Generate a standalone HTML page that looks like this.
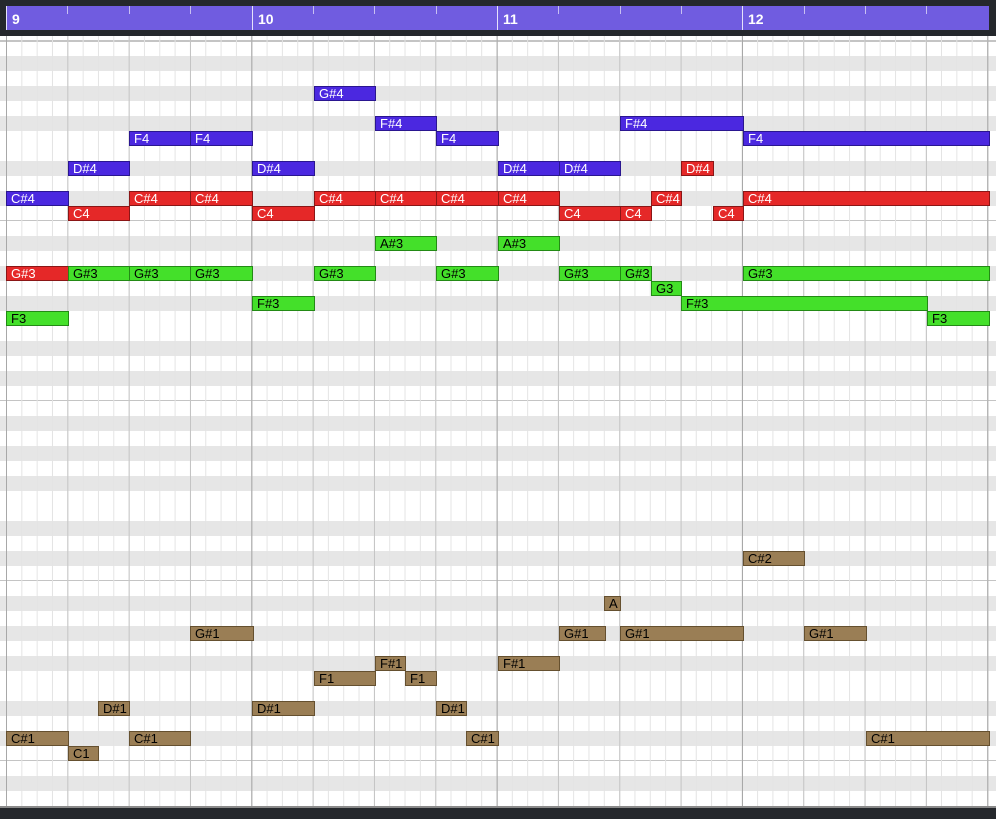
<!DOCTYPE html>
<html><head><meta charset="utf-8"><style>
*{margin:0;padding:0;box-sizing:border-box}
body{width:996px;height:819px;overflow:hidden;background:#fff;position:relative;font-family:"Liberation Sans",sans-serif}
#top{position:absolute;left:0;top:0;width:996px;height:36px;background:#25282c}
#ruler{position:absolute;left:6px;top:6px;width:983px;height:24px;background:#705ce0}
.tick{position:absolute;top:0;width:1px;height:8px;background:#c8c0f2}
.bar{position:absolute;top:0;width:1px;height:24px;background:#e6e2fb}
.num{position:absolute;top:5px;color:#fff;font-weight:bold;font-size:14px}
#grid{position:absolute;left:0;top:36px;width:996px;height:770px;
background:
linear-gradient(to right,#a8a8a8 0 1px,transparent 1px) 6px 0/245.33px 100% repeat-x,
linear-gradient(to right,#c4c4c4 0 1px,transparent 1px) 6px 0/61.333px 100% repeat-x,
linear-gradient(to right,#e4e4e4 0 1px,transparent 1px) 6px 0/15.333px 100% repeat-x,
linear-gradient(#c4c4c4 0 2px,transparent 2px) 0 4px/100% 100% no-repeat,
linear-gradient(to bottom,transparent 0 179px,#c4c4c4 179px 181px,transparent 181px) 0 5px/100% 180px repeat-y,
linear-gradient(to bottom,#fff 0 15px,#e6e6e6 15px 30px,#fff 30px 45px,#e6e6e6 45px 60px,#fff 60px 75px,#e6e6e6 75px 90px,#fff 90px 120px,#e6e6e6 120px 135px,#fff 135px 150px,#e6e6e6 150px 165px,#fff 165px 180px) 0 5px/100% 180px repeat-y;}
#bot{position:absolute;left:0;top:806px;width:996px;height:13px;background:#25282c;border-top:2px solid #8a8a8a}
.n{position:absolute;height:15px;border:1px solid;font-size:13px;line-height:13px;padding-left:4px;white-space:nowrap;overflow:hidden}
.b{background:#4b28e0;border-color:#2a1690;color:#fff}
.r{background:#e52828;border-color:#8a1616;color:#fff}
.g{background:#44e02a;border-color:#238a15;color:#000}
.w{background:#9a7e55;border-color:#65502f;color:#000}
</style></head><body>
<div id="top"></div>
<div id="ruler">
<div class="bar" style="left:0"></div><div class="bar" style="left:246px"></div><div class="bar" style="left:491px"></div><div class="bar" style="left:736px"></div>
<div class="tick" style="left:61px"></div><div class="tick" style="left:123px"></div><div class="tick" style="left:184px"></div>
<div class="tick" style="left:307px"></div><div class="tick" style="left:368px"></div><div class="tick" style="left:430px"></div>
<div class="tick" style="left:552px"></div><div class="tick" style="left:614px"></div><div class="tick" style="left:675px"></div>
<div class="tick" style="left:798px"></div><div class="tick" style="left:859px"></div><div class="tick" style="left:920px"></div>
<div class="num" style="left:6px">9</div><div class="num" style="left:252px">10</div><div class="num" style="left:497px">11</div><div class="num" style="left:742px">12</div>
</div>
<div id="grid"></div>
<div id="bot"></div>

<div class="n b" style="left:314px;top:86px;width:62px">G#4</div>
<div class="n b" style="left:375px;top:116px;width:62px">F#4</div>
<div class="n b" style="left:620px;top:116px;width:124px">F#4</div>
<div class="n b" style="left:129px;top:131px;width:62px">F4</div>
<div class="n b" style="left:190px;top:131px;width:63px">F4</div>
<div class="n b" style="left:436px;top:131px;width:63px">F4</div>
<div class="n b" style="left:743px;top:131px;width:247px">F4</div>
<div class="n b" style="left:68px;top:161px;width:62px">D#4</div>
<div class="n b" style="left:252px;top:161px;width:63px">D#4</div>
<div class="n b" style="left:498px;top:161px;width:62px">D#4</div>
<div class="n b" style="left:559px;top:161px;width:62px">D#4</div>
<div class="n r" style="left:681px;top:161px;width:33px">D#4</div>
<div class="n b" style="left:6px;top:191px;width:63px">C#4</div>
<div class="n r" style="left:129px;top:191px;width:62px">C#4</div>
<div class="n r" style="left:190px;top:191px;width:63px">C#4</div>
<div class="n r" style="left:314px;top:191px;width:62px">C#4</div>
<div class="n r" style="left:375px;top:191px;width:62px">C#4</div>
<div class="n r" style="left:436px;top:191px;width:63px">C#4</div>
<div class="n r" style="left:498px;top:191px;width:62px">C#4</div>
<div class="n r" style="left:651px;top:191px;width:31px">C#4</div>
<div class="n r" style="left:743px;top:191px;width:247px">C#4</div>
<div class="n r" style="left:68px;top:206px;width:62px">C4</div>
<div class="n r" style="left:252px;top:206px;width:63px">C4</div>
<div class="n r" style="left:559px;top:206px;width:62px">C4</div>
<div class="n r" style="left:620px;top:206px;width:32px">C4</div>
<div class="n r" style="left:713px;top:206px;width:31px">C4</div>
<div class="n g" style="left:375px;top:236px;width:62px">A#3</div>
<div class="n g" style="left:498px;top:236px;width:62px">A#3</div>
<div class="n r" style="left:6px;top:266px;width:63px">G#3</div>
<div class="n g" style="left:68px;top:266px;width:62px">G#3</div>
<div class="n g" style="left:129px;top:266px;width:62px">G#3</div>
<div class="n g" style="left:190px;top:266px;width:63px">G#3</div>
<div class="n g" style="left:314px;top:266px;width:62px">G#3</div>
<div class="n g" style="left:436px;top:266px;width:63px">G#3</div>
<div class="n g" style="left:559px;top:266px;width:62px">G#3</div>
<div class="n g" style="left:620px;top:266px;width:32px">G#3</div>
<div class="n g" style="left:743px;top:266px;width:247px">G#3</div>
<div class="n g" style="left:651px;top:281px;width:31px">G3</div>
<div class="n g" style="left:252px;top:296px;width:63px">F#3</div>
<div class="n g" style="left:681px;top:296px;width:247px">F#3</div>
<div class="n g" style="left:6px;top:311px;width:63px">F3</div>
<div class="n g" style="left:927px;top:311px;width:63px">F3</div>

<div class="n w" style="left:743px;top:551px;width:62px">C#2</div>
<div class="n w" style="left:604px;top:596px;width:17px">A</div>
<div class="n w" style="left:190px;top:626px;width:64px">G#1</div>
<div class="n w" style="left:559px;top:626px;width:47px">G#1</div>
<div class="n w" style="left:620px;top:626px;width:124px">G#1</div>
<div class="n w" style="left:804px;top:626px;width:63px">G#1</div>
<div class="n w" style="left:375px;top:656px;width:31px">F#1</div>
<div class="n w" style="left:498px;top:656px;width:62px">F#1</div>
<div class="n w" style="left:314px;top:671px;width:62px">F1</div>
<div class="n w" style="left:405px;top:671px;width:32px">F1</div>
<div class="n w" style="left:98px;top:701px;width:32px">D#1</div>
<div class="n w" style="left:252px;top:701px;width:63px">D#1</div>
<div class="n w" style="left:436px;top:701px;width:31px">D#1</div>
<div class="n w" style="left:6px;top:731px;width:63px">C#1</div>
<div class="n w" style="left:129px;top:731px;width:62px">C#1</div>
<div class="n w" style="left:466px;top:731px;width:33px">C#1</div>
<div class="n w" style="left:866px;top:731px;width:124px">C#1</div>
<div class="n w" style="left:68px;top:746px;width:31px">C1</div>
</body></html>
